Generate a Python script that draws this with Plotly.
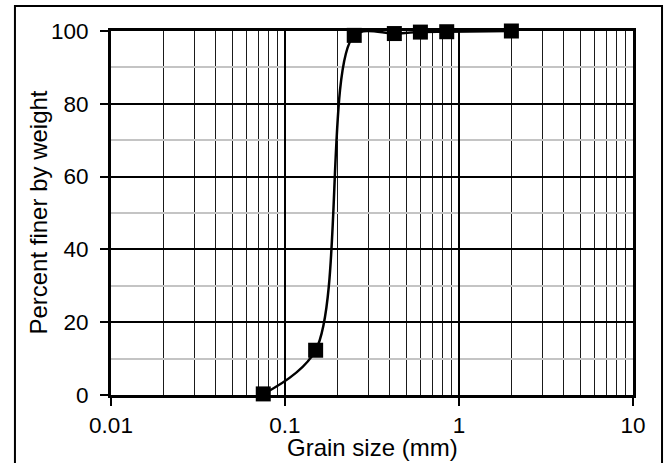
import plotly.graph_objects as go

grain_size_mm = [0.075, 0.15, 0.25, 0.425, 0.6, 0.85, 2.0]
percent_finer = [0.3, 12.3, 98.8, 99.3, 99.7, 99.8, 100.0]

x_major_ticks = [0.01, 0.1, 1, 10]
x_major_labels = ["0.01", "0.1", "1", "10"]
x_minor_ticks = [m * d for d in (0.01, 0.1, 1) for m in range(2, 10)]
y_major_ticks = [0, 20, 40, 60, 80, 100]
y_minor_ticks = [10, 30, 50, 70, 90]

FONT = "Liberation Sans, Arial, sans-serif"

fig = go.Figure()
fig.add_trace(go.Scatter(
    x=grain_size_mm, y=percent_finer,
    mode="lines+markers",
    line=dict(color="black", width=2.5, shape="spline", smoothing=0.9),
    marker=dict(symbol="square", size=15, color="black"),
    cliponaxis=False,
    showlegend=False,
))

fig.update_layout(
    width=667, height=463,
    margin=dict(l=111, r=34, t=31, b=68),
    paper_bgcolor="white", plot_bgcolor="white",
    font=dict(family=FONT, size=22, color="black"),
    xaxis=dict(
        type="log", range=[-2, 1],
        tickmode="array", tickvals=x_major_ticks, ticktext=x_major_labels,
        ticks="outside", ticklen=8, tickwidth=2, tickcolor="black",
        showline=True, linecolor="black", linewidth=3, mirror=True,
        showgrid=True, gridcolor="black", gridwidth=1.5,
        minor=dict(tickmode="array", tickvals=x_minor_ticks, showgrid=True,
                   gridcolor="#1a1a1a", gridwidth=1, ticks=""),
        zeroline=False,
        tickfont=dict(size=22.5),
    ),
    yaxis=dict(
        range=[0, 100],
        tickmode="array", tickvals=y_major_ticks,
        ticks="outside", ticklen=8, tickwidth=2, tickcolor="black",
        ticklabelstandoff=7,
        showline=True, linecolor="black", linewidth=3, mirror=True,
        showgrid=True, gridcolor="black", gridwidth=1.5,
        minor=dict(tickmode="array", tickvals=y_minor_ticks, showgrid=True,
                   gridcolor="#c4c4c4", gridwidth=2, ticks=""),
        zeroline=False,
        tickfont=dict(size=22.5),
    ),
    annotations=[
        dict(text="Grain size (mm)", xref="paper", yref="paper",
             x=0.5, y=-0.143, xanchor="center", yanchor="middle",
             showarrow=False, font=dict(size=24)),
        dict(text="Percent finer by weight", xref="paper", yref="paper",
             x=-0.1406, y=0.5, xanchor="center", yanchor="middle",
             textangle=-90, showarrow=False, font=dict(size=24)),
    ],
    shapes=[dict(type="rect", xref="paper", yref="paper",
                 x0=-0.184, x1=1.0556, y0=-0.25, y1=1.0687,
                 line=dict(color="black", width=2), layer="below")],
)

fig.write_html("out.html")
